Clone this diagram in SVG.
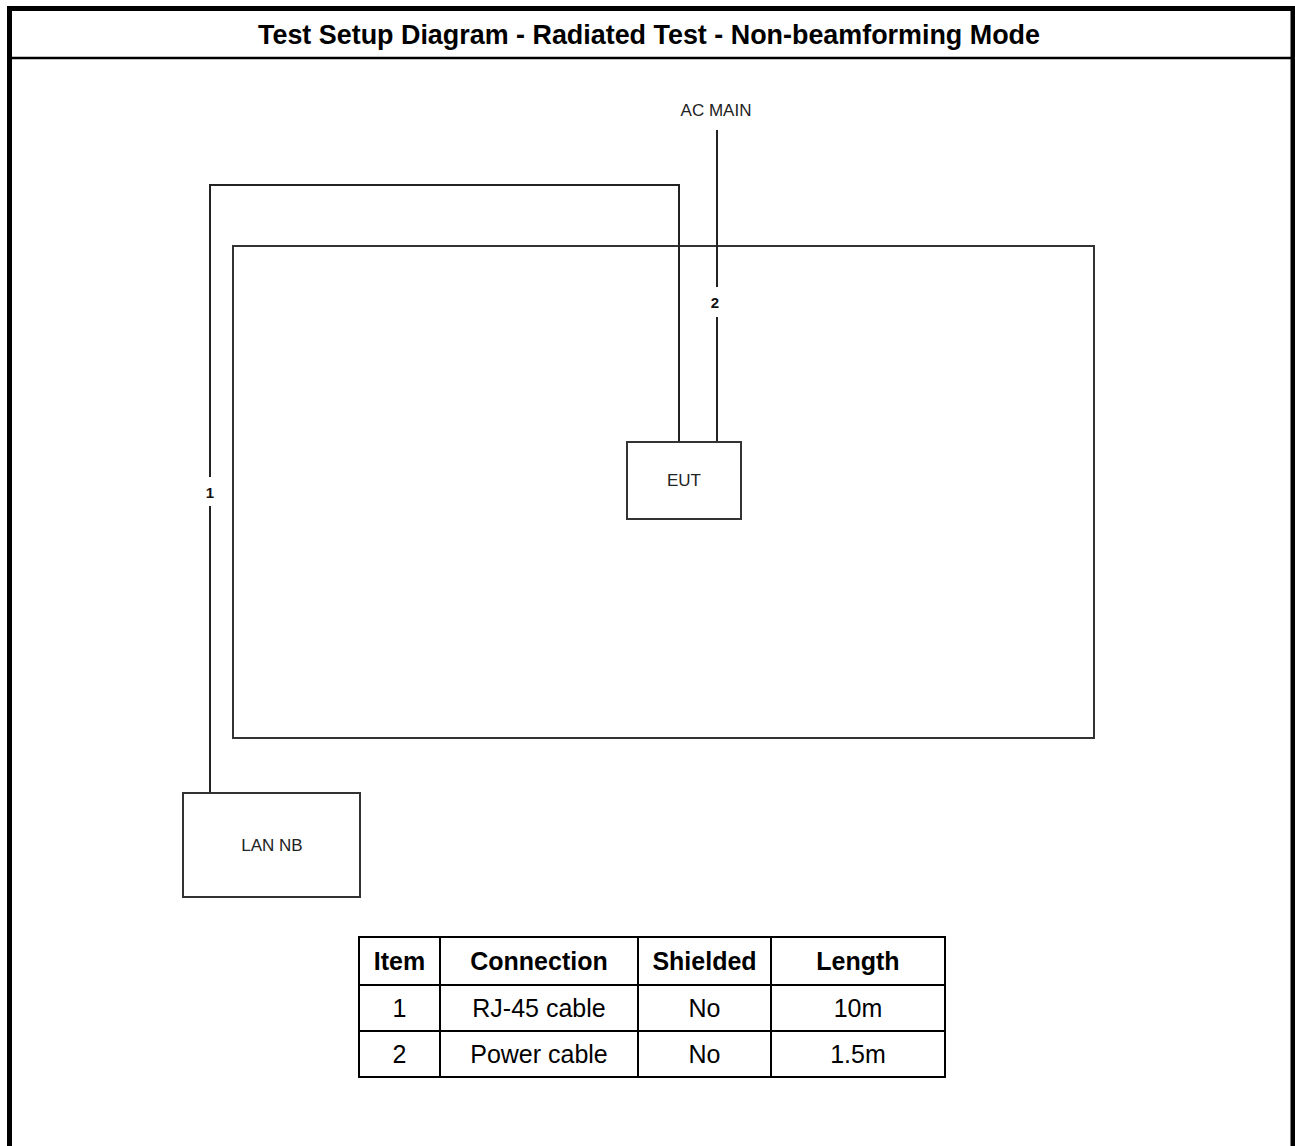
<svg xmlns="http://www.w3.org/2000/svg" width="1295" height="1146" viewBox="0 0 1295 1146">
<style>
.frame{fill:none;stroke:#000;stroke-width:5}
.box{fill:#fff;stroke:#333;stroke-width:2}
.wire{fill:none;stroke:#222;stroke-width:2}
.lbl{font-family:"Liberation Sans",Arial,sans-serif;font-size:17px;fill:#222;text-anchor:middle}
.num{font-family:"Liberation Sans",Arial,sans-serif;font-size:15px;font-weight:bold;fill:#111;text-anchor:middle}
.title{font-family:"Liberation Sans",Arial,sans-serif;font-size:28px;font-weight:bold;fill:#000;text-anchor:middle}
.th{font-family:"Liberation Sans",Arial,sans-serif;font-size:25px;font-weight:bold;fill:#000;text-anchor:middle}
.td{font-family:"Liberation Sans",Arial,sans-serif;font-size:25px;fill:#000;text-anchor:middle}
.grid{fill:none;stroke:#000;stroke-width:2}
</style>
<rect width="1295" height="1146" fill="#fff"/>
<g id="frame">
<path class="frame" d="M9.5,1146 V8.5 H1293 V1146"/>
<line x1="9.5" y1="58" x2="1293" y2="58" stroke="#000" stroke-width="2.5"/>
<text class="title" x="649" y="44" textLength="782" lengthAdjust="spacingAndGlyphs">Test Setup Diagram - Radiated Test - Non-beamforming Mode</text>
</g>
<g id="test-area">
<rect class="box" x="233" y="246" width="861" height="492"/>
</g>
<g id="connectors">
<path class="wire" d="M210,477 V185 H679 V442"/>
<line class="wire" x1="210" y1="506" x2="210" y2="793"/>
<line class="wire" x1="717" y1="130" x2="717" y2="287"/>
<line class="wire" x1="717" y1="317" x2="717" y2="442"/>
<text class="num" x="210" y="498">1</text>
<text class="num" x="715" y="308">2</text>
</g>
<g id="ac-main">
<text class="lbl" x="716" y="116">AC MAIN</text>
</g>
<g id="eut">
<rect class="box" x="627" y="442" width="114" height="77"/>
<text class="lbl" x="684" y="486">EUT</text>
</g>
<g id="lan-nb">
<rect class="box" x="183" y="793" width="177" height="104"/>
<text class="lbl" x="272" y="851">LAN  NB</text>
</g>
<g id="table">
<rect class="grid" x="359" y="937" width="586" height="140"/>
<line class="grid" x1="359" y1="985" x2="945" y2="985"/>
<line class="grid" x1="359" y1="1031" x2="945" y2="1031"/>
<line class="grid" x1="440" y1="937" x2="440" y2="1077"/>
<line class="grid" x1="638" y1="937" x2="638" y2="1077"/>
<line class="grid" x1="771" y1="937" x2="771" y2="1077"/>
<text class="th" x="399.5" y="970">Item</text>
<text class="th" x="539" y="970">Connection</text>
<text class="th" x="704.5" y="970">Shielded</text>
<text class="th" x="858" y="970">Length</text>
<text class="td" x="399.5" y="1017">1</text>
<text class="td" x="539" y="1017">RJ-45 cable</text>
<text class="td" x="704.5" y="1017">No</text>
<text class="td" x="858" y="1017">10m</text>
<text class="td" x="399.5" y="1063">2</text>
<text class="td" x="539" y="1063">Power cable</text>
<text class="td" x="704.5" y="1063">No</text>
<text class="td" x="858" y="1063">1.5m</text>
</g>
</svg>
